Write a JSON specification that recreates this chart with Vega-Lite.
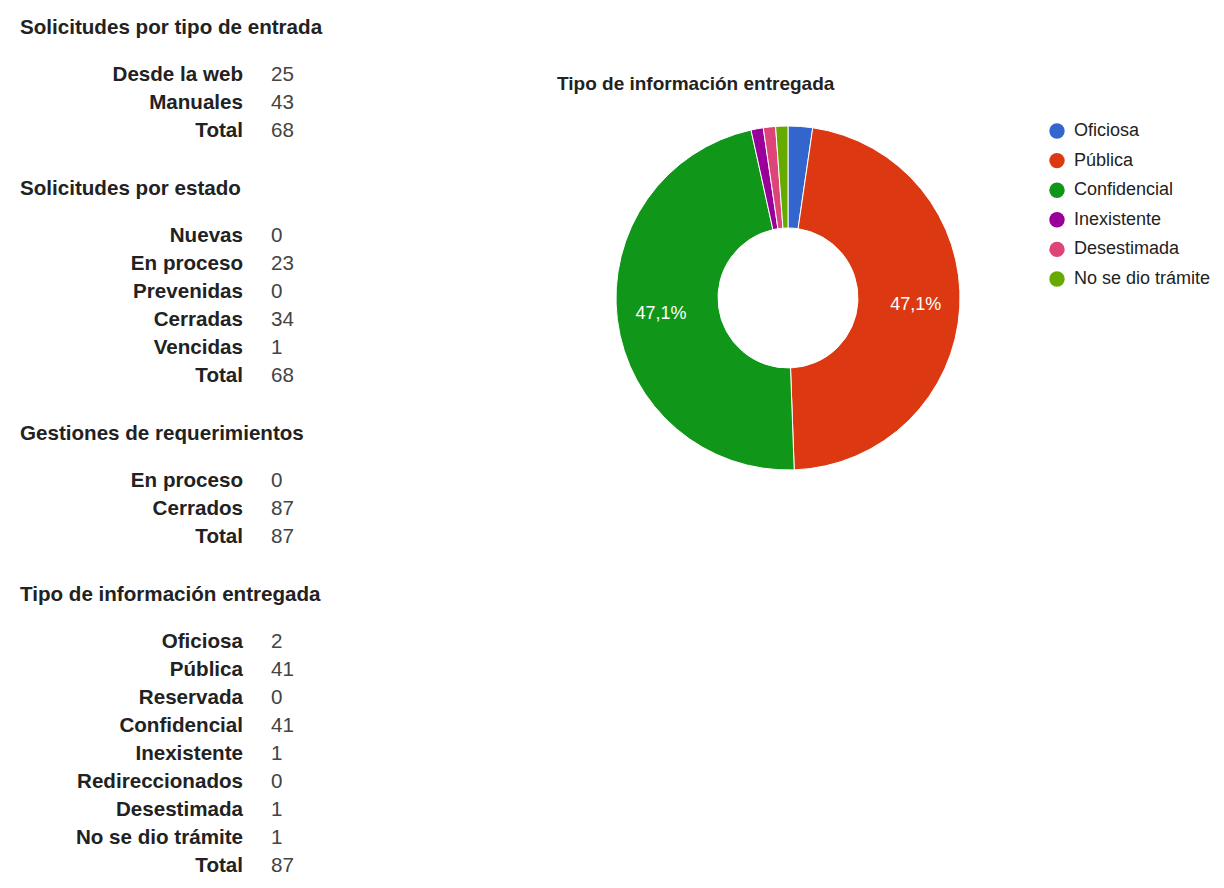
{
  "$schema": "https://vega.github.io/schema/vega-lite/v6.json",
  "padding": {"left": 20, "top": 18, "right": 0, "bottom": 0},
  "background": "white",
  "bounds": "flush",
  "spacing": 537,
  "config": {
    "font": "Liberation Sans",
    "view": {"stroke": null},
    "title": {"anchor": "start", "fontSize": 20.6, "fontWeight": "bold", "color": "#222", "offset": 22}
  },
  "datasets": {
    "tablas": [
      {"tabla": "Solicitudes por tipo de entrada", "orden": 1, "etiqueta": "Desde la web", "valor": 25, "porcentaje": ""},
      {"tabla": "Solicitudes por tipo de entrada", "orden": 2, "etiqueta": "Manuales", "valor": 43, "porcentaje": ""},
      {"tabla": "Solicitudes por tipo de entrada", "orden": 3, "etiqueta": "Total", "valor": 68, "porcentaje": ""},
      {"tabla": "Solicitudes por estado", "orden": 1, "etiqueta": "Nuevas", "valor": 0, "porcentaje": ""},
      {"tabla": "Solicitudes por estado", "orden": 2, "etiqueta": "En proceso", "valor": 23, "porcentaje": ""},
      {"tabla": "Solicitudes por estado", "orden": 3, "etiqueta": "Prevenidas", "valor": 0, "porcentaje": ""},
      {"tabla": "Solicitudes por estado", "orden": 4, "etiqueta": "Cerradas", "valor": 34, "porcentaje": ""},
      {"tabla": "Solicitudes por estado", "orden": 5, "etiqueta": "Vencidas", "valor": 1, "porcentaje": ""},
      {"tabla": "Solicitudes por estado", "orden": 6, "etiqueta": "Total", "valor": 68, "porcentaje": ""},
      {"tabla": "Gestiones de requerimientos", "orden": 1, "etiqueta": "En proceso", "valor": 0, "porcentaje": ""},
      {"tabla": "Gestiones de requerimientos", "orden": 2, "etiqueta": "Cerrados", "valor": 87, "porcentaje": ""},
      {"tabla": "Gestiones de requerimientos", "orden": 3, "etiqueta": "Total", "valor": 87, "porcentaje": ""},
      {"tabla": "Tipo de información entregada", "orden": 1, "etiqueta": "Oficiosa", "valor": 2, "porcentaje": ""},
      {"tabla": "Tipo de información entregada", "orden": 2, "etiqueta": "Pública", "valor": 41, "porcentaje": "47,1%"},
      {"tabla": "Tipo de información entregada", "orden": 3, "etiqueta": "Reservada", "valor": 0, "porcentaje": ""},
      {"tabla": "Tipo de información entregada", "orden": 4, "etiqueta": "Confidencial", "valor": 41, "porcentaje": "47,1%"},
      {"tabla": "Tipo de información entregada", "orden": 5, "etiqueta": "Inexistente", "valor": 1, "porcentaje": ""},
      {"tabla": "Tipo de información entregada", "orden": 6, "etiqueta": "Redireccionados", "valor": 0, "porcentaje": ""},
      {"tabla": "Tipo de información entregada", "orden": 7, "etiqueta": "Desestimada", "valor": 1, "porcentaje": ""},
      {"tabla": "Tipo de información entregada", "orden": 8, "etiqueta": "No se dio trámite", "valor": 1, "porcentaje": ""},
      {"tabla": "Tipo de información entregada", "orden": 9, "etiqueta": "Total", "valor": 87, "porcentaje": ""}
    ]
  },
  "data": {"name": "tablas"},
  "hconcat": [
    {
      "vconcat": [
        {
          "title": "Solicitudes por tipo de entrada",
          "width": 474,
          "height": {"step": 28},
          "transform": [{"filter": "datum.tabla === 'Solicitudes por tipo de entrada'"}],
          "encoding": {"y": {"field": "etiqueta", "type": "nominal", "sort": {"field": "orden"}, "axis": null}},
          "layer": [
            {"mark": {"type": "text", "align": "right", "baseline": "middle", "dx": -14, "fontWeight": "bold", "fontSize": 20.6, "color": "#222"}, "encoding": {"text": {"field": "etiqueta"}}},
            {"mark": {"type": "text", "align": "left", "baseline": "middle", "dx": 14, "fontSize": 20.6, "color": "#444"}, "encoding": {"text": {"field": "valor", "type": "quantitative"}}}
          ]
        },
        {
          "title": "Solicitudes por estado",
          "width": 474,
          "height": {"step": 28},
          "transform": [{"filter": "datum.tabla === 'Solicitudes por estado'"}],
          "encoding": {"y": {"field": "etiqueta", "type": "nominal", "sort": {"field": "orden"}, "axis": null}},
          "layer": [
            {"mark": {"type": "text", "align": "right", "baseline": "middle", "dx": -14, "fontWeight": "bold", "fontSize": 20.6, "color": "#222"}, "encoding": {"text": {"field": "etiqueta"}}},
            {"mark": {"type": "text", "align": "left", "baseline": "middle", "dx": 14, "fontSize": 20.6, "color": "#444"}, "encoding": {"text": {"field": "valor", "type": "quantitative"}}}
          ]
        },
        {
          "title": "Gestiones de requerimientos",
          "width": 474,
          "height": {"step": 28},
          "transform": [{"filter": "datum.tabla === 'Gestiones de requerimientos'"}],
          "encoding": {"y": {"field": "etiqueta", "type": "nominal", "sort": {"field": "orden"}, "axis": null}},
          "layer": [
            {"mark": {"type": "text", "align": "right", "baseline": "middle", "dx": -14, "fontWeight": "bold", "fontSize": 20.6, "color": "#222"}, "encoding": {"text": {"field": "etiqueta"}}},
            {"mark": {"type": "text", "align": "left", "baseline": "middle", "dx": 14, "fontSize": 20.6, "color": "#444"}, "encoding": {"text": {"field": "valor", "type": "quantitative"}}}
          ]
        },
        {
          "title": "Tipo de información entregada",
          "width": 474,
          "height": {"step": 28},
          "transform": [{"filter": "datum.tabla === 'Tipo de información entregada'"}],
          "encoding": {"y": {"field": "etiqueta", "type": "nominal", "sort": {"field": "orden"}, "axis": null}},
          "layer": [
            {"mark": {"type": "text", "align": "right", "baseline": "middle", "dx": -14, "fontWeight": "bold", "fontSize": 20.6, "color": "#222"}, "encoding": {"text": {"field": "etiqueta"}}},
            {"mark": {"type": "text", "align": "left", "baseline": "middle", "dx": 14, "fontSize": 20.6, "color": "#444"}, "encoding": {"text": {"field": "valor", "type": "quantitative"}}}
          ]
        }
      ],
      "spacing": 77,
      "bounds": "flush"
    },
    {
      "title": {"text": "Tipo de información entregada", "fontSize": 19, "dy": 56, "offset": 23},
      "width": 462,
      "height": 474,
      "transform": [{"filter": "datum.tabla === 'Tipo de información entregada' && datum.etiqueta !== 'Total' && datum.valor > 0"}],
      "encoding": {
        "theta": {"field": "valor", "type": "quantitative", "stack": true},
        "order": {"field": "orden", "type": "quantitative"},
        "color": {
          "field": "etiqueta",
          "type": "nominal",
          "scale": {
            "domain": ["Oficiosa", "Pública", "Confidencial", "Inexistente", "Desestimada", "No se dio trámite"],
            "range": ["#3366cc", "#dc3912", "#109618", "#990099", "#dd4477", "#66aa00"]
          },
          "legend": {
            "title": null,
            "orient": "none",
            "legendX": 1028,
            "legendY": 61,
            "symbolType": "circle",
            "symbolSize": 238,
            "symbolStrokeWidth": 0,
            "labelFontSize": 18,
            "labelColor": "#222",
            "labelOffset": 8,
            "rowPadding": 11.6
          }
        }
      },
      "layer": [
        {"mark": {"type": "arc", "outerRadius": 172, "innerRadius": 70, "stroke": "white", "strokeWidth": 1}},
        {"mark": {"type": "text", "radius": 128, "fontSize": 18, "baseline": "middle", "align": "center"}, "encoding": {"text": {"field": "porcentaje"}, "color": {"value": "white"}}}
      ]
    }
  ]
}
